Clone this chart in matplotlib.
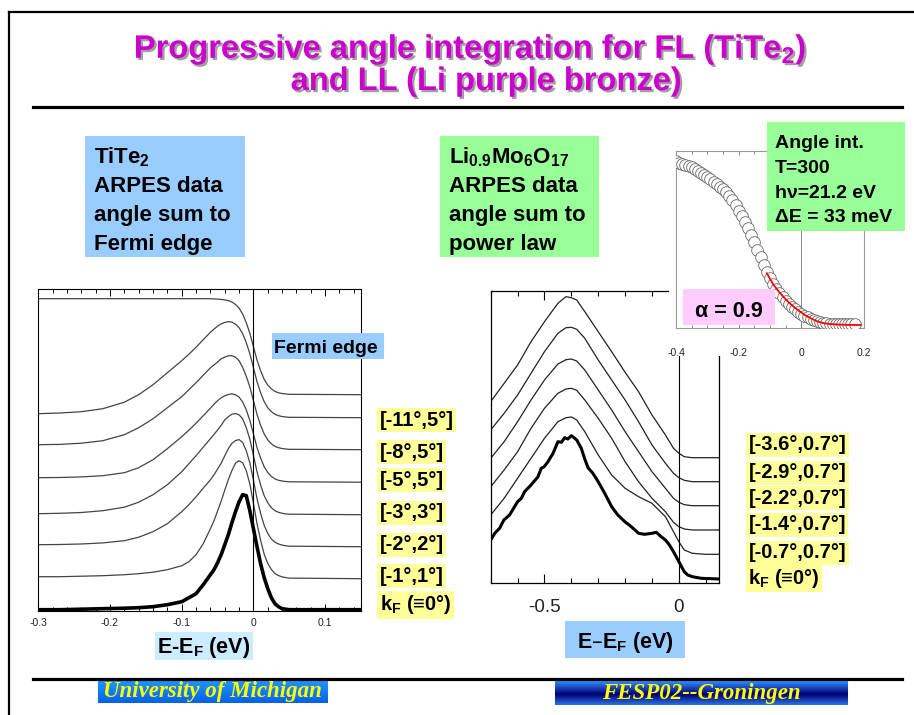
import matplotlib
matplotlib.use('Agg')
import matplotlib.pyplot as plt
import matplotlib.patheffects as pe
import numpy as np
from matplotlib.patches import Rectangle
from matplotlib.ticker import MultipleLocator, FuncFormatter

plt.rcParams['font.family'] = ['Liberation Sans', 'DejaVu Sans']
plt.rcParams['mathtext.default'] = 'regular'
plt.rcParams['axes.unicode_minus'] = False

W, H = 914, 715

# --- TiTe2 angle sums (left panel), intensity in arbitrary units ---
E_TITE = [-0.30, -0.27, -0.24, -0.21, -0.18, -0.16, -0.14, -0.12, -0.10, -0.09, -0.08, -0.07,
          -0.060, -0.055, -0.050, -0.045, -0.040, -0.035, -0.030, -0.025, -0.020, -0.015, -0.010, -0.005,
          0.000, 0.005, 0.010, 0.015, 0.020, 0.025, 0.030, 0.035, 0.040, 0.045, 0.050, 0.15]
tite_full = [312, 312, 312, 312, 312, 312, 312, 312, 312, 312, 312, 312,
             312, 311.8, 311.6, 311.3, 310.8, 310.1, 308.7, 306.2, 302.6, 296.6, 288, 277.4,
             264, 250.6, 240, 231.4, 225.6, 221.8, 219.3, 217.9, 217.2, 216.7, 216.4, 216]
tite_11_5 = [197, 197.7, 199, 202, 208.5, 216, 226, 238, 250, 256.5, 263.5, 271,
             278.4, 281.6, 284.6, 286.8, 288.3, 289.0, 288.6, 286.5, 283, 277, 268, 257,
             243, 229, 218, 209, 203, 199, 196.4, 195, 194.2, 193.7, 193.4, 193]
tite_8_5 = [166, 166.3, 167.5, 170, 176, 183, 192, 203, 214, 221, 228, 235.5,
            242.9, 245.8, 248.6, 251.9, 253.6, 254.9, 255, 253.5, 250, 243.3, 234.5, 223.7,
            210, 196.3, 185.5, 176.7, 170.8, 166.9, 164.3, 163, 162.2, 161.7, 161.4, 161]
tite_5_5 = [133, 133.2, 133.8, 135, 138, 143, 151, 162, 174, 180.5, 187.5, 195,
            202.5, 206.5, 210, 212.9, 214.9, 216.2, 216.9, 215.9, 213.6, 208.7, 200.9, 190.3,
            176.8, 163.2, 152.6, 143.9, 138.2, 134.3, 131.8, 130.4, 129.7, 129.2, 128.9, 128.5]
tite_3_3 = [97, 97.4, 98.2, 100, 103.5, 108.5, 116, 126, 139, 147, 155, 163.5,
            172, 176.3, 180.7, 185.4, 190.8, 194, 196.5, 197.1, 195.9, 191.8, 183, 171.5,
            155.5, 138.8, 125.8, 115, 107.9, 103, 100, 98.4, 97.4, 96.8, 96.5, 96]
tite_2_2 = [66, 66.2, 66.7, 67.8, 70, 73.5, 79, 87, 99, 106, 114, 122.5,
            130.9, 135.9, 141.7, 147.4, 154.9, 162, 167.4, 170.2, 171.1, 168.2, 160, 147.8,
            130.5, 111.9, 97.3, 85.3, 77.3, 71.7, 68.5, 66.7, 65.6, 64.9, 64.5, 64]
tite_1_1 = [34, 34, 34.5, 35, 36, 37, 38.5, 41, 45, 49, 56, 67,
            82, 89.9, 99.7, 109.5, 120.5, 131, 140.2, 147.6, 149.9, 147.9, 140, 126.7,
            107.5, 87.1, 70.3, 56.5, 47.3, 41.2, 37.2, 35.1, 33.8, 33.1, 32.6, 32]
tite_kf = [1, 1, 1.5, 2, 2.5, 3, 4, 6, 9, 13, 17, 26,
           36, 41, 48, 56, 66, 76, 88, 99, 109, 116, 115, 100,
           82, 64, 47, 33, 22, 13, 7, 4, 2, 1.5, 1, 1]
TITE_LABELS = ['[-11°,5°]', '[-8°,5°]', '[-5°,5°]', '[-3°,3°]', '[-2°,2°]', '[-1°,1°]', 'k$_F$ (≡0°)']

# --- Li0.9Mo6O17 angle sums (right panel) ---
E_LIPB = [-0.70, -0.65, -0.60, -0.55, -0.50, -0.45, -0.42, -0.40, -0.38, -0.35, -0.30,
          -0.25, -0.20, -0.15, -0.10, -0.05, -0.02, 0.00, 0.02, 0.05, 0.10, 0.15]
lipb_36 = [181, 199.4, 217.7, 241, 261, 279.4, 286, 285, 282.7, 271, 251, 231, 210.4, 191, 167.7, 147.7, 134.4, 129.4, 126, 125, 125, 125]
lipb_29 = [152.7, 169.4, 187.7, 209.4, 231, 249.4, 255, 255.4, 253.4, 244.4, 222.7, 202.7, 182.7, 161, 137.7, 119.4, 109.4, 105, 102.4, 101, 101, 101]
lipb_22 = [124.4, 141, 161, 182.7, 202.7, 218.7, 223, 223.7, 221.7, 212.7, 192.7, 172.7, 151, 131, 111, 94.4, 84.4, 80.4, 78, 77, 77, 77]
lipb_14 = [96, 112.7, 131, 154.4, 174.4, 189.4, 193.7, 194.4, 192.4, 182.7, 164.4, 144.4, 121, 101, 84.4, 71, 60.4, 56, 53.7, 52.7, 52.7, 52.7]
lipb_07 = [67.7, 84.4, 104.4, 124.4, 144.4, 161, 165, 165.7, 162.7, 151, 127.7, 107.7, 94.4, 86, 79.4, 66, 51, 41, 32.7, 29.4, 28.4, 28.4]
E_LIPB_KF = [-0.700, -0.685, -0.667, -0.651, -0.630, -0.600, -0.586, -0.574, -0.550, -0.524,
             -0.512, -0.501, -0.487, -0.468, -0.450, -0.437, -0.425, -0.413, -0.400, -0.390,
             -0.380, -0.363, -0.351, -0.338, -0.320, -0.300, -0.276, -0.250, -0.227, -0.201,
             -0.177, -0.150, -0.128, -0.100, -0.084, -0.066, -0.050, -0.035, -0.020, -0.010,
             0.000, 0.020, 0.033, 0.050, 0.083, 0.150]
lipb_kf = [42.7, 49.4, 54.4, 62.7, 67.7, 81, 84.4, 91, 97.7, 106,
           114.4, 116, 121, 129.4, 141, 140.4, 145, 143.7, 147, 145,
           142.7, 134.4, 124.4, 115, 109.4, 101, 89.4, 76, 67.7, 61,
           56, 49.4, 48.4, 49.4, 50.4, 46, 42.7, 37.7, 31, 26,
           21, 11, 7.7, 6, 4.4, 3.7]
LIPB_LABELS = ['[-3.6°,0.7°]', '[-2.9°,0.7°]', '[-2.2°,0.7°]', '[-1.4°,0.7°]', '[-0.7°,0.7°]', 'k$_F$ (≡0°)']

# --- angle integrated inset (T=300) with power law fit ---
E_INSET = [-0.40, -0.39, -0.38, -0.37, -0.36, -0.35, -0.34, -0.33, -0.32, -0.31,
           -0.30, -0.29, -0.28, -0.27, -0.26, -0.25, -0.24, -0.23, -0.22, -0.21,
           -0.20, -0.19, -0.18, -0.17, -0.16, -0.15, -0.14, -0.13, -0.12, -0.11,
           -0.10, -0.09, -0.08, -0.07, -0.06, -0.05, -0.04, -0.03, -0.02, -0.01,
           0.00, 0.01, 0.02, 0.03, 0.04, 0.05, 0.06, 0.07, 0.08, 0.09,
           0.10, 0.11, 0.12, 0.13, 0.14, 0.15, 0.16, 0.17]
I_INSET = [167, 165.7, 164.7, 163.5, 162.2, 160.8, 159, 157.5, 155.5, 153.5,
           151.5, 149, 146.5, 144, 141.5, 139, 136, 132, 128, 123,
           117.5, 112, 106, 100, 93, 86, 78.5, 71, 63, 56,
           50, 44.5, 39.5, 35, 31, 27.5, 24.5, 21.5, 19, 16.5,
           14.5, 12.8, 11.2, 9.7, 8.3, 7.2, 6.3, 5.6, 5.1, 4.7,
           4.5, 4.3, 4.2, 4.2, 4.2, 4.3, 4.3, 4.4]
E_FIT = [-0.11, -0.09, -0.07, -0.05, -0.03, -0.01, 0.01, 0.03, 0.05, 0.07, 0.09, 0.12, 0.15, 0.19]
I_FIT = [55, 44, 36, 29, 23, 18, 13.5, 10, 7, 5.2, 4.3, 3.7, 3.4, 3.3]

fig = plt.figure(figsize=(W / 100, H / 100), dpi=100, facecolor='white')


def px_axes(x0, y0, x1, y1, **kw):
    return fig.add_axes([x0 / W, 1 - y1 / H, (x1 - x0) / W, (y1 - y0) / H], **kw)


def fmt(v, pos):
    return '0' if abs(v) < 1e-9 else '%g' % round(v, 3)


# left panel
axl = px_axes(38.3, 289.3, 361, 610.7, zorder=1)
for c in [tite_full, tite_11_5, tite_8_5, tite_5_5, tite_3_3, tite_2_2, tite_1_1]:
    axl.plot(E_TITE, c, color='#444444', lw=0.9)
axl.plot(E_TITE, tite_kf, color='black', lw=2.6)
axl.axvline(0, color='black', lw=0.8)
axl.set_xlim(-0.3, 0.15)
axl.set_ylim(0, 321.4)
axl.set_yticks([])
axl.xaxis.set_major_locator(MultipleLocator(0.1))
axl.xaxis.set_minor_locator(MultipleLocator(0.02))
axl.xaxis.set_major_formatter(FuncFormatter(fmt))
axl.tick_params(axis='x', which='both', direction='in', top=True, bottom=True,
                labelsize=7.5, labelcolor='#222222', pad=5, width=0.7)
axl.tick_params(axis='x', which='major', length=5)
axl.tick_params(axis='x', which='minor', length=3)
for s in axl.spines.values():
    s.set_linewidth(0.8)

# right panel
axr = px_axes(490.7, 291, 719.2, 582.7, zorder=1)
for c in [lipb_36, lipb_29, lipb_22, lipb_14, lipb_07]:
    axr.plot(E_LIPB, c, color='#222222', lw=0.9)
axr.plot(E_LIPB_KF, lipb_kf, color='black', lw=2.2)
axr.axvline(0, color='black', lw=0.8)
axr.set_xlim(-0.7, 0.15)
axr.set_ylim(0, 291.7)
axr.set_yticks([])
axr.xaxis.set_major_locator(MultipleLocator(0.5))
axr.xaxis.set_minor_locator(MultipleLocator(0.1))
axr.xaxis.set_major_formatter(FuncFormatter(fmt))
axr.tick_params(axis='x', which='both', direction='in', top=True, bottom=True,
                labelsize=13.5, labelcolor='#222222', pad=12, width=0.8)
axr.tick_params(axis='x', which='major', length=6.5)
axr.tick_params(axis='x', which='minor', length=3.5)
for s in axr.spines.values():
    s.set_linewidth(0.9)

# white background of the pasted inset
cov = px_axes(669, 140, 880, 355.5, zorder=2)
cov.set_xticks([])
cov.set_yticks([])
for s in cov.spines.values():
    s.set_visible(False)

# inset
axi = px_axes(676, 150.7, 864, 328.3, zorder=3)
axi.axvline(0, color='#888888', lw=0.7, zorder=1)
axi.scatter(E_INSET, I_INSET, s=70, facecolors='white', edgecolors='#666666', linewidths=0.6, zorder=3)
axi.plot(E_FIT, I_FIT, color='red', lw=1.3, zorder=4)
axi.set_xlim(-0.4, 0.2)
axi.set_ylim(0, 177.6)
axi.set_yticks([])
axi.xaxis.set_major_locator(MultipleLocator(0.2))
axi.xaxis.set_minor_locator(MultipleLocator(0.05))
axi.xaxis.set_major_formatter(FuncFormatter(fmt))
axi.tick_params(axis='x', which='both', direction='in', top=True, bottom=True,
                labelsize=7.5, labelcolor='#222222', pad=14, width=0.6, color='#777777')
axi.tick_params(axis='x', which='major', length=3)
axi.tick_params(axis='x', which='minor', length=2)
for s in axi.spines.values():
    s.set_color('#999999')
    s.set_linewidth(0.8)

# overlay in pixel coordinates for the slide decoration
ov = fig.add_axes([0, 0, 1, 1], zorder=10)
ov.axis('off')


def rect(x0, y0, x1, y1, color):
    ov.add_patch(Rectangle((x0, y0), x1 - x0, y1 - y0, facecolor=color, edgecolor='none'))


def btext(x, y, s, size, **kw):
    kw.setdefault('ha', 'left')
    kw.setdefault('va', 'baseline')
    ov.text(x, y, s, fontsize=size, fontweight='bold', **kw)


# frame and rules
ov.plot([8.5, W], [12, 12], color='black', lw=1.6)
ov.plot([8.5, 8.5], [12, H], color='black', lw=1.6)
ov.plot([33, 902], [107, 107], color='black', lw=2.3)
ov.plot([33, 902], [679, 679], color='black', lw=2.3)

# title with drop shadow
shadow = [pe.withSimplePatchShadow(offset=(1.6, -1.6), shadow_rgbFace='#A0A0A0', alpha=1.0)]
btext(470, 58, 'Progressive angle integration for FL (TiTe$_2$)', 23.5,
      color='#CC00CC', ha='center', path_effects=shadow)
btext(486, 90, 'and LL (Li purple bronze)', 23.5, color='#CC00CC', ha='center', path_effects=shadow)

# description boxes
rect(85, 136, 245, 257, '#99CCFF')
rect(439.6, 136, 599, 257, '#99FF99')
for i, (a, b) in enumerate(zip(['TiTe$_2$', 'ARPES data', 'angle sum to', 'Fermi edge'],
                               ['Li$_{0.9}$Mo$_6$O$_{17}$', 'ARPES data', 'angle sum to', 'power law'])):
    y = 163 + 29 * i
    btext(94, y, a, 16)
    btext(448.6, y, b, 16)

rect(766.7, 121.7, 905, 230.7, '#99FF99')
for i, s in enumerate(['Angle int.', 'T=300', 'hν=21.2 eV', 'ΔE = 33 meV']):
    btext(775, 148.3 + 24.7 * i, s, 14)

rect(682.7, 289, 775, 325, '#FFCCFF')
btext(728.8, 317.3, 'α = 0.9', 15.5, ha='center')

rect(271.7, 333, 384, 359, '#99CCFF')
btext(273.5, 353.3, 'Fermi edge', 14)

# angle window labels
for s, y in zip(TITE_LABELS, [420, 452, 480, 513, 545, 576, 605]):
    btext(379.8, y, s, 14.5, va='center',
          bbox=dict(boxstyle='square,pad=0.12', facecolor='#FFFF99', edgecolor='none'))
for s, y in zip(LIPB_LABELS, [445, 473, 498, 525, 553, 578]):
    btext(748.5, y, s, 14.5, va='center',
          bbox=dict(boxstyle='square,pad=0.12', facecolor='#FFFF99', edgecolor='none'))

# axis titles
rect(155, 631.7, 252.5, 660, '#CCECFF')
btext(203.5, 653.3, 'E-E$_F$ (eV)', 15.5, ha='center')
rect(565, 621, 685, 657.7, '#99CCFF')
btext(625, 648.3, 'E–E$_F$ (eV)', 15.5, ha='center')

# footer boxes with gradients
t = np.linspace(0, 1, 64)[:, None]
grad_a = np.dstack([0.12 - 0.1 * t, 0.58 - 0.2 * t, 1.0 - 0.08 * t])
ov.imshow(np.repeat(grad_a, 2, axis=1), extent=(98, 327.6, 703, 681), aspect='auto', zorder=1)
mid = 1 - np.abs(t - 0.55) / 0.55
grad_b = np.dstack([0.2 * (1 - mid), 0.55 * (1 - mid), 1.0 - 0.55 * mid])
ov.imshow(np.repeat(grad_b, 2, axis=1), extent=(555, 848, 705, 681), aspect='auto', zorder=1)
ov.text(212, 692, 'University of Michigan', fontsize=16.5, family='Liberation Serif',
        fontweight='bold', style='italic', color='#FFFF00', ha='center', va='center', zorder=2)
ov.text(701, 693, 'FESP02--Groningen', fontsize=16.5, family='Liberation Serif',
        fontweight='bold', style='italic', color='#FFFF00', ha='center', va='center', zorder=2)

ov.set_xlim(0, W)
ov.set_ylim(H, 0)

fig.savefig('out.png', dpi=100, facecolor='white')
